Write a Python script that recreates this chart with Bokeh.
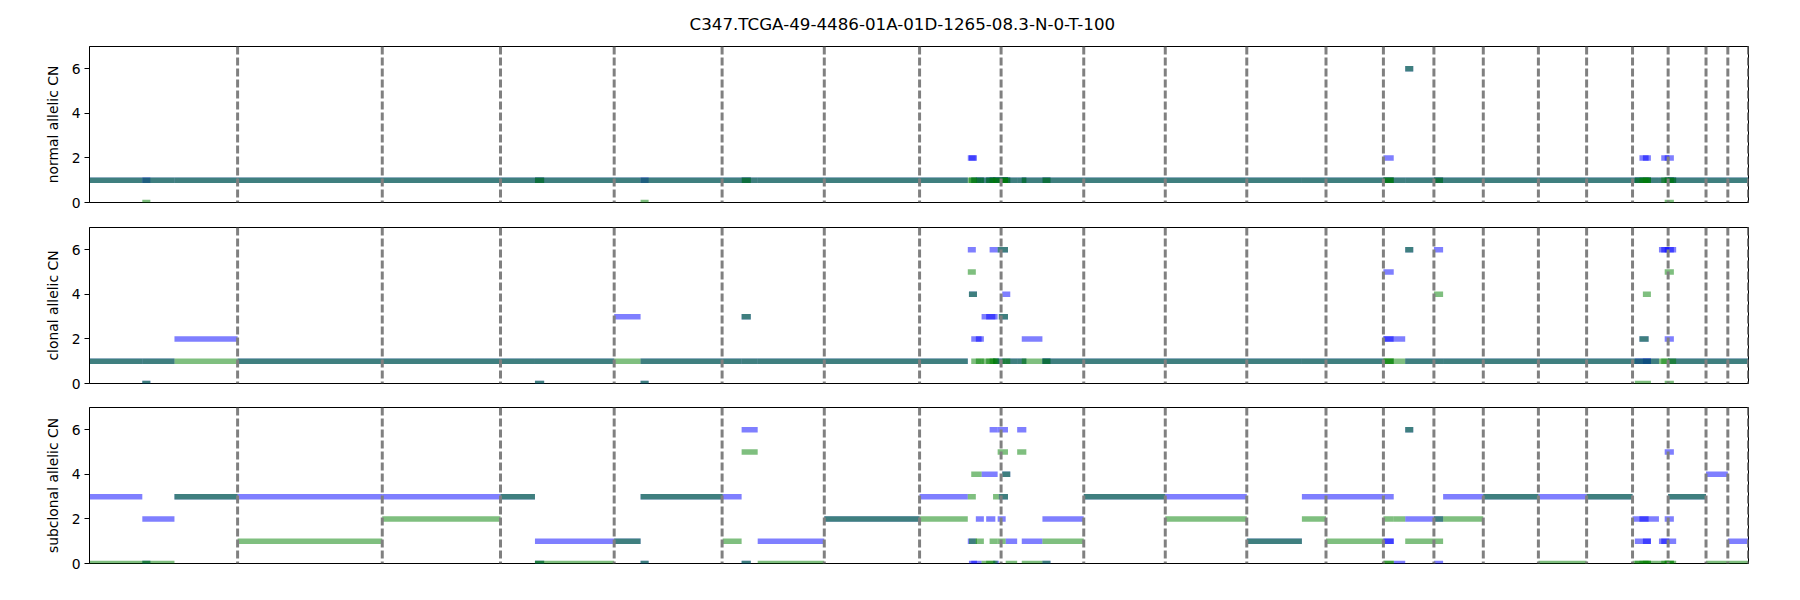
from bokeh.plotting import figure
from bokeh.layouts import column
from bokeh.models import Span, Range1d, FixedTicker
from bokeh.embed import file_html
from bokeh.resources import INLINE

TITLE = "C347.TCGA-49-4486-01A-01D-1265-08.3-N-0-T-100"
GENOME_END = 2890

# cumulative chromosome ends (Mb), chr1..chr22
chrom_ends = [258, 510, 716, 914, 1102, 1280, 1446, 1588, 1732, 1874, 2016,
              2154, 2254, 2342, 2428, 2524, 2608, 2688, 2750, 2816, 2854, 2890]

# segment table (genome position, Mb) with allelic copy numbers
seg_start = [0, 92, 148, 258, 510, 716, 776, 914, 960, 1103, 1136, 1164, 1280, 1446,
             92, 776, 960, 1136,
             1530, 1532, 1536, 1544, 1554, 1562, 1568, 1574, 1582, 1584, 1582, 1590,
             1596, 1616, 1624, 1660,
             1660, 1732, 1874, 2016, 2112, 2154,
             2254, 2254, 2254, 2272, 2292, 2292, 2342, 2342,
             2358, 2428, 2524, 2608,
             2688, 2692, 2700, 2706, 2734, 2738, 2744, 2744,
             2750, 2816, 2854]
seg_end = [92, 148, 258, 510, 716, 776, 914, 960, 1103, 1136, 1164, 1280, 1446, 1530,
           106, 792, 974, 1152,
           1544, 1546, 1554, 1558, 1582, 1578, 1582, 1584, 1600, 1600, 1596, 1604,
           1616, 1632, 1660, 1674,
           1732, 1874, 2016, 2112, 2154, 2254,
           2272, 2272, 2272, 2292, 2342, 2306, 2358, 2358,
           2428, 2524, 2608, 2688,
           2734, 2720, 2716, 2720, 2764, 2752, 2760, 2760,
           2816, 2854, 2890]
normal_a = [1, 1, 1, 1, 1, 1, 1, 1, 1, 1, 1, 1, 1, 1,
            1, 1, 1, 1,
            2, 2, 1, 1, 1, 1, 1, 1, 1, 1, 1, 1,
            1, 1, 1, 1,
            1, 1, 1, 1, 1, 1,
            2, 1, 1, 1, 1, 6, 1, 1,
            1, 1, 1, 1,
            1, 1, 2, 2, 1, 2, 1, 2,
            1, 1, 1]
normal_b = [1, 1, 1, 1, 1, 1, 1, 1, 1, 1, 1, 1, 1, 1,
            0, 1, 0, 1,
            1, 1, 1, 1, 1, 1, 1, 1, 1, 1, 1, 1,
            1, 1, 1, 1,
            1, 1, 1, 1, 1, 1,
            1, 1, 1, 1, 1, 6, 1, 1,
            1, 1, 1, 1,
            1, 1, 1, 1, 1, 1, 0, 1,
            1, 1, 1]
clonal_a = [1, 1, 2, 1, 1, 1, 1, 3, 1, 1, 1, 1, 1, 1,
            0, 0, 0, 3,
            6, 4, 2, 2, 3, 3, 6, 1, 6, 3, 1, 4,
            1, 1, 2, 1,
            1, 1, 1, 1, 1, 1,
            5, 2, 2, 2, 1, 6, 6, 1,
            1, 1, 1, 1,
            1, 1, 2, 1, 6, 6, 2, 6,
            1, 1, 1]
clonal_b = [1, 1, 1, 1, 1, 1, 1, 1, 1, 1, 1, 1, 1, 1,
            0, 0, 0, 3,
            5, 4, 1, 1, 1, 1, 1, 1, 6, 3, 1, 1,
            1, 1, 1, 1,
            1, 1, 1, 1, 1, 1,
            1, 1, 1, 1, 1, 6, 4, 1,
            1, 1, 1, 1,
            1, 0, 2, 4, 1, 1, 0, 5,
            1, 1, 1]
subclonal_a = [3, 2, 3, 3, 3, 3, 1, 1, 3, 3, 6, 1, 2, 3,
               0, 0, 0, 0,
               1, 0, 0, 2, 4, 2, 6, 0, 6, 3, 2, 4,
               1, 6, 1, 0,
               2, 3, 3, 1, 3, 3,
               3, 1, 1, 0, 2, 6, 0, 2,
               3, 3, 3, 3,
               2, 1, 2, 1, 1, 1, 5, 2,
               3, 4, 1]
subclonal_b = [0, 0, 3, 1, 2, 3, 0, 1, 3, 1, 5, 0, 2, 2,
               0, 0, 0, 0,
               3, 1, 4, 1, 0, 0, 1, 3, 5, 3, 1, 4,
               0, 5, 0, 0,
               1, 3, 2, 1, 2, 1,
               2, 0, 0, 2, 1, 6, 2, 1,
               2, 3, 0, 3,
               0, 0, 0, 0, 0, 0, 0, 0,
               3, 0, 0]

panels = [
    ("normal allelic CN", normal_a, normal_b),
    ("clonal allelic CN", clonal_a, clonal_b),
    ("subclonal allelic CN", subclonal_a, subclonal_b),
]

FONT = "DejaVu Sans"


def make_panel(label, cn_a, cn_b, top, bottom, title=None):
    p = figure(frame_width=1659, frame_height=156,
               x_range=Range1d(0, GENOME_END), y_range=Range1d(0, 7),
               x_axis_location=None, toolbar_location=None,
               output_backend="svg",
               min_border_left=89, min_border_right=20,
               min_border_top=top, min_border_bottom=bottom)
    p.xgrid.visible = False
    p.ygrid.visible = False
    p.outline_line_color = "black"
    p.outline_line_alpha = 1.0
    p.outline_line_width = 1
    p.background_fill_color = "white"
    p.border_fill_color = "white"

    # allele A in blue, allele B in green (overlap turns teal)
    p.segment(x0=seg_start, x1=seg_end, y0=cn_a, y1=cn_a,
              line_color="blue", line_alpha=0.5, line_width=5.5, line_cap="butt")
    p.segment(x0=seg_start, x1=seg_end, y0=cn_b, y1=cn_b,
              line_color="green", line_alpha=0.5, line_width=5.5, line_cap="butt")

    # chromosome boundaries
    for x in chrom_ends:
        p.add_layout(Span(location=x, dimension="height", line_color="gray",
                          line_width=3, line_dash="8 3"))

    ax = p.yaxis[0]
    ax.ticker = FixedTicker(ticks=[0, 2, 4, 6])
    ax.axis_label = label
    ax.axis_label_text_font = FONT
    ax.axis_label_text_font_size = "13.9px"
    ax.axis_label_text_font_style = "normal"
    ax.axis_label_text_color = "black"
    ax.axis_label_standoff = 8
    ax.major_label_text_font = FONT
    ax.major_label_text_font_size = "13.9px"
    ax.major_label_text_color = "black"
    ax.major_label_standoff = 4
    ax.major_tick_out = 5
    ax.major_tick_in = 0
    ax.minor_tick_line_color = None
    ax.axis_line_color = "black"
    ax.major_tick_line_color = "black"

    if title:
        p.title.text = title
        p.title.align = "left"
        p.title.offset = 600
        p.title.vertical_align = "top"
        p.title.standoff = 22
        p.title.text_font = FONT
        p.title.text_font_size = "16.7px"
        p.title.text_font_style = "normal"
        p.title.text_color = "black"
    return p


figs = []
for i, (label, a, b) in enumerate(panels):
    if i == 0:
        figs.append(make_panel(label, a, b, 46, 12, title=TITLE))
    elif i == 1:
        figs.append(make_panel(label, a, b, 13, 12))
    else:
        figs.append(make_panel(label, a, b, 12, 10))

layout = column(*figs, spacing=0)
open("out.html", "w").write(file_html(layout, INLINE))
